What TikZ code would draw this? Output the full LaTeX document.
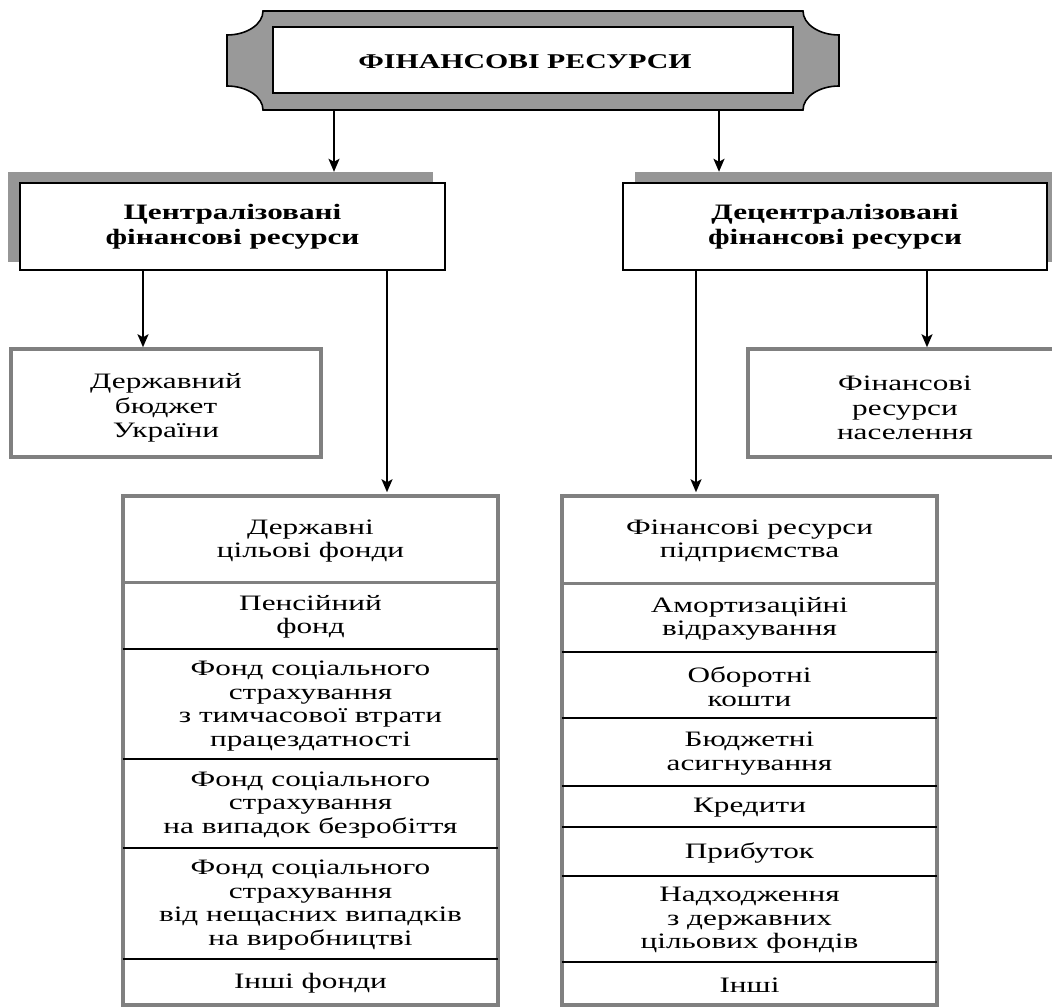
\documentclass[tikz,border=0pt]{standalone}
\usepackage{fontspec}
\setmainfont{Liberation Serif}[FakeStretch=1.42]
\usetikzlibrary{arrows.meta}
\definecolor{plaquegray}{HTML}{999999}
\definecolor{shadowgray}{HTML}{969696}
\definecolor{framegray}{HTML}{808080}
\begin{document}
\begin{tikzpicture}[x=1pt,y=-1pt,
  txt/.style={font=\fontsize{22}{23.5}\selectfont, align=center, inner sep=0pt},
  head/.style={font=\bfseries\fontsize{22}{25}\selectfont, align=center, inner sep=0pt},
  blackbox/.style={draw=black, line width=2.4pt, fill=white, inner sep=0pt},
  shadowbox/.style={fill=shadowgray, draw=none, inner sep=0pt},
  graybox/.style={draw=framegray, line width=3.5pt, fill=white, inner sep=0pt},
  cell/.style={txt, minimum width=375pt},
  arr/.style={line width=2pt, -{Stealth[length=13pt,width=11pt,inset=3pt]}},
  divb/.style={line width=2pt, black},
  divg/.style={line width=3pt, framegray}]
\useasboundingbox (0,0) rectangle (1052,1008);
\clip (0,0) rectangle (1052,1008);
\fill[white] (0,0) rectangle (1052,1008);

% title plaque
\draw[line width=1.6pt, fill=plaquegray]
  (263,11) -- (803,11) .. controls (803,24.2) and (819.1,35) .. (839,35)
  -- (839,86) .. controls (819.1,86) and (803,96.8) .. (803,110)
  -- (263,110) .. controls (263,96.8) and (246.9,86) .. (227,86)
  -- (227,35) .. controls (246.9,35) and (263,24.2) .. (263,11) -- cycle;
\node[draw=black, line width=2pt, fill=white, minimum width=520pt, minimum height=66pt,
      inner sep=0pt] (title) at (533,60) {};
\node[font=\bfseries\fontsize{21}{24}\selectfont, inner sep=0pt] (titletext) at (525,62) {ФІНАНСОВІ РЕСУРСИ};
\coordinate (pl) at (334,110);
\coordinate (pr) at (719,110);

% second level
\node[shadowbox, minimum width=425pt, minimum height=90pt] (centsh) at (220.5,217) {};
\node[blackbox, minimum width=425pt, minimum height=87pt, head] (cent) at (232.5,226.5) {Централізовані\\фінансові ресурси};
\node[shadowbox, minimum width=425pt, minimum height=90pt] (decsh) at (847.5,217) {};
\node[blackbox, minimum width=424pt, minimum height=87pt, head] (dec) at (835,226.5) {Децентралізовані\\фінансові ресурси};

\draw[arr] (pl) -- (pl |- centsh.north);
\draw[arr] (pr) -- (pr |- decsh.north);

% third level
\node[graybox, minimum width=310pt, minimum height=108pt] (budget) at (166,403) {};
\node[txt, font=\fontsize{22}{24.5}\selectfont] (budgettext) at (166,408) {Державний\\бюджет\\України};
\node[graybox, minimum width=314pt, minimum height=108pt] (popul) at (905,403) {};
\node[txt, font=\fontsize{22}{24.5}\selectfont] (popultext) at (905,408) {Фінансові\\ресурси\\населення};

% lists
\node[graybox, minimum width=375pt, minimum height=509pt] (llist) at (310.5,750.5) {};
\node[graybox, minimum width=375pt, minimum height=509pt] (rlist) at (749.5,750.5) {};

\coordinate (xa) at (143,0);
\coordinate (xb) at (387,0);
\coordinate (xc) at (696,0);
\coordinate (xd) at (927,0);
\draw[arr] (cent.south -| xa) -- (budget.north -| xa);
\draw[arr, shorten >=2pt] (cent.south -| xb) -- (llist.north -| xb);
\draw[arr, shorten >=2pt] (dec.south -| xc) -- (rlist.north -| xc);
\draw[arr] (dec.south -| xd) -- (popul.north -| xd);

% left cells
\node[cell, minimum height=86pt] (l1) at (310.5,541) {Державні\\цільові фонди};
\node[cell, minimum height=67pt] (l2) at (310.5,617) {Пенсійний\\фонд};
\node[cell, minimum height=110pt] (l3) at (310.5,706) {Фонд соціального\\страхування\\з тимчасової втрати\\працездатності};
\node[cell, minimum height=89pt] (l4) at (310.5,805) {Фонд соціального\\страхування\\на випадок безробіття};
\node[cell, minimum height=111pt] (l5) at (310.5,905) {Фонд соціального\\страхування\\від нещасних випадків\\на виробництві};
\node[cell, minimum height=46pt] (l6) at (310.5,983) {Інші фонди};
\draw[divg] (l1.west |- 0,582) -- (l1.east |- 0,582);
\draw[divb] (l2.west |- 0,649) -- (l2.east |- 0,649);
\draw[divb] (l3.west |- 0,759) -- (l3.east |- 0,759);
\draw[divb] (l4.west |- 0,848) -- (l4.east |- 0,848);
\draw[divb] (l5.west |- 0,959) -- (l5.east |- 0,959);

% right cells
\node[cell, minimum height=87pt] (r1) at (749.5,541) {Фінансові ресурси\\підприємства};
\node[cell, minimum height=69pt] (r2) at (749.5,619) {Амортизаційні\\відрахування};
\node[cell, minimum height=66pt] (r3) at (749.5,686.5) {Оборотні\\кошти};
\node[cell, minimum height=68pt] (r4) at (749.5,753.5) {Бюджетні\\асигнування};
\node[cell, minimum height=41pt] (r5) at (749.5,808) {Кредити};
\node[cell, minimum height=49pt] (r6) at (749.5,853) {Прибуток};
\node[cell, minimum height=86pt] (r7) at (749.5,920.5) {Надходження\\з державних\\цільових фондів};
\node[cell, minimum height=43pt] (r8) at (749.5,985) {Інші};
\draw[divg] (r1.west |- 0,583) -- (r1.east |- 0,583);
\draw[divb] (r2.west |- 0,652) -- (r2.east |- 0,652);
\draw[divb] (r3.west |- 0,718) -- (r3.east |- 0,718);
\draw[divb] (r4.west |- 0,786) -- (r4.east |- 0,786);
\draw[divb] (r5.west |- 0,827) -- (r5.east |- 0,827);
\draw[divb] (r6.west |- 0,876) -- (r6.east |- 0,876);
\draw[divb] (r7.west |- 0,962) -- (r7.east |- 0,962);
\end{tikzpicture}
\end{document}
